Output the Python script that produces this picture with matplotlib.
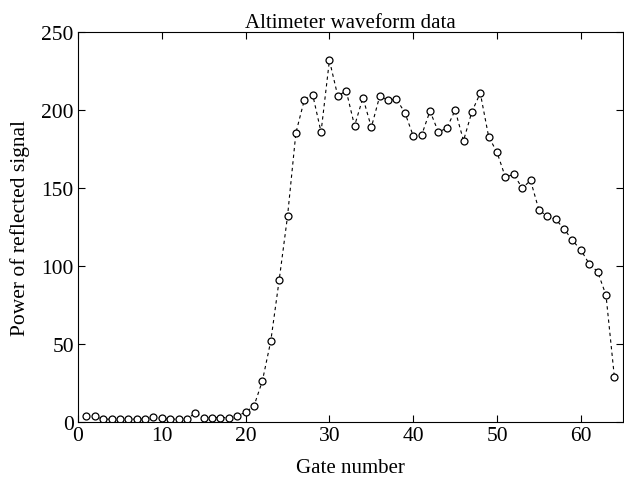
import numpy as np
import matplotlib
matplotlib.use("Agg")
import matplotlib.pyplot as plt

# gate numbers and power of the reflected signal
gate = np.arange(1, 65)
power = [4, 4, 2, 2, 2, 2, 2, 2, 3.5, 2.5,
         2, 2, 2, 6, 3, 3, 3, 3, 4, 6.5,
         10.5, 26.5, 52, 91, 132, 185.5, 206.5, 210, 186, 232,
         209, 212.5, 190, 208, 189, 209, 206.5, 207, 198.5, 183.5,
         184, 199.5, 186, 188.5, 200, 180.5, 199, 211, 183, 173,
         157, 159, 150, 155, 136, 132, 130, 124, 116.5, 110.5,
         101.5, 96.5, 81.5, 29]

xticks = [0, 10, 20, 30, 40, 50, 60]
yticks = [0, 50, 100, 150, 200, 250]

plt.rcParams['font.family'] = ['Liberation Serif', 'DejaVu Serif']

fig = plt.figure(figsize=(6.24, 4.81), dpi=100)
ax = fig.add_axes([0.125, 0.12, 0.873, 0.811])

ax.plot(gate, power, linestyle=(0, (3, 3)), color='black', linewidth=0.8,
        marker='o', markersize=5, markerfacecolor='white',
        markeredgecolor='black', markeredgewidth=0.9)

ax.set_xlim(0, 65)
ax.set_ylim(0, 250)
ax.set_xticks(xticks)
ax.set_yticks(yticks)
ax.tick_params(direction='in', top=True, right=True, labelsize=15.5,
               length=5, pad=3)

ax.set_title('Altimeter waveform data', fontsize=15, pad=4)
ax.set_xlabel('Gate number', fontsize=15, labelpad=9)
ax.set_ylabel('Power of reflected signal', fontsize=15.5, labelpad=8)

fig.savefig('out.png', dpi=100)
